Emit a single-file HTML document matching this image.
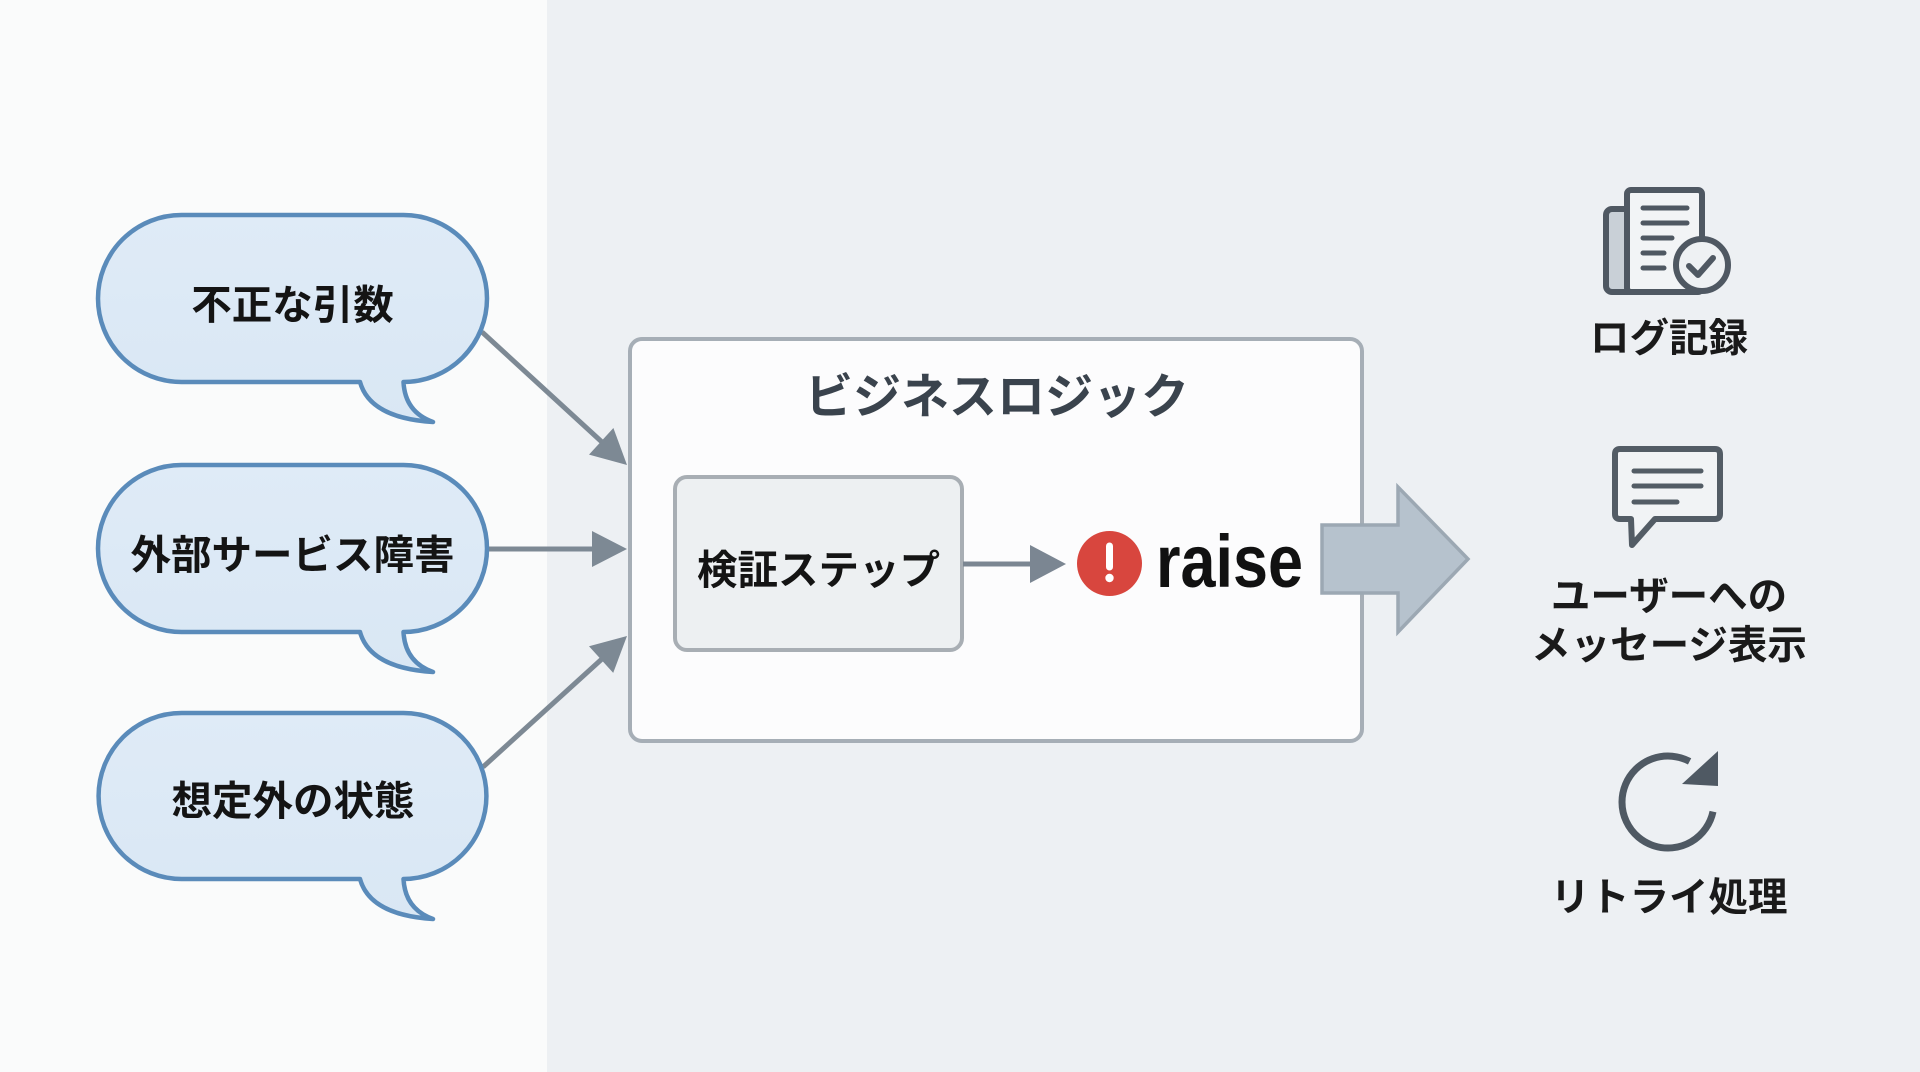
<!DOCTYPE html>
<html><head><meta charset="utf-8"><style>
html,body{margin:0;padding:0;width:1920px;height:1072px;overflow:hidden;background:#edf0f3;}
svg{display:block;}
text{font-family:"Liberation Sans","Noto Sans CJK JP",sans-serif;font-weight:bold;}
</style></head><body>
<svg width="1920" height="1072" viewBox="0 0 1920 1072" xmlns="http://www.w3.org/2000/svg">
<defs>
<linearGradient id="bub" x1="0" y1="0" x2="0" y2="1">
<stop offset="0" stop-color="#dfebf7"/><stop offset="1" stop-color="#d9e7f4"/>
</linearGradient>
</defs>
<rect x="0" y="0" width="1920" height="1072" fill="#edf0f3"/>
<rect x="0" y="0" width="547" height="1072" fill="#fafbfb"/>

<!-- connectors from bubbles -->
<g stroke="#7d8994" stroke-width="5" fill="none">
<line x1="482" y1="332" x2="603" y2="443"/>
<line x1="487" y1="549" x2="595" y2="549"/>
<line x1="483" y1="767" x2="603" y2="658"/>
</g>
<g fill="#7d8994">
<polygon points="627,465 589,454.6 613.4,428"/>
<polygon points="627,549 592,531 592,567"/>
<polygon points="627,636 613.2,672.9 589,646.3"/>
</g>

<!-- bubbles -->
<g fill="url(#bub)" stroke="#5a8bba" stroke-width="4.5" stroke-linejoin="round">
<path d="M181.5,215 H403.5 A83.5,83.5 0 0 1 403.5,382 Q405,412 433,422 Q370,418 360,382 H181.5 A83.5,83.5 0 0 1 181.5,215 Z"/>
<path d="M181.5,465 H403.5 A83.5,83.5 0 0 1 403.5,632 Q405,662 433,672 Q370,668 360,632 H181.5 A83.5,83.5 0 0 1 181.5,465 Z"/>
<path d="M181.5,713 H403.5 A83,83 0 0 1 403.5,879 Q405,909 433,919 Q370,915 360,879 H181.5 A83,83 0 0 1 181.5,713 Z"/>
</g>
<g fill="#141414" font-size="40.5" text-anchor="middle">
<text x="292.5" y="319">不正な引数</text>
<text x="292.5" y="569">外部サービス障害</text>
<text x="293" y="815">想定外の状態</text>
</g>

<!-- main box -->
<rect x="630" y="339" width="732" height="402" rx="12" fill="#fcfcfd" stroke="#a6aeb6" stroke-width="4"/>
<text x="997" y="413" font-size="48" fill="#3a434d" text-anchor="middle">ビジネスロジック</text>
<rect x="675" y="477" width="287" height="173" rx="12" fill="#edf0f2" stroke="#a8aeb4" stroke-width="4"/>
<text x="818.5" y="584" font-size="40.5" fill="#141414" text-anchor="middle">検証ステップ</text>

<!-- small arrow -->
<line x1="963" y1="564" x2="1034" y2="564" stroke="#7b8692" stroke-width="5"/>
<polygon points="1030,545 1066,564 1030,583" fill="#7b8692"/>

<!-- red circle -->
<circle cx="1109.5" cy="563.5" r="32.5" fill="#d8463e"/>
<line x1="1109.5" y1="546" x2="1109.5" y2="567" stroke="#ffffff" stroke-width="7" stroke-linecap="round"/>
<circle cx="1109.5" cy="578" r="4.2" fill="#ffffff"/>
<text x="1156" y="587" font-size="74" fill="#111111" textLength="147" lengthAdjust="spacingAndGlyphs">raise</text>

<!-- big arrow -->
<polygon points="1322,525 1398,525 1398,487 1468,559 1398,632 1398,593 1322,593" fill="#b6c2cd" stroke="#9ca8b3" stroke-width="3.5" stroke-linejoin="miter"/>

<!-- log icon -->
<g stroke="#4f5862" stroke-width="6" stroke-linejoin="round">
<rect x="1606" y="209" width="30" height="83" rx="6" fill="#c9d0d7"/>
<rect x="1627" y="190" width="75" height="102" rx="4" fill="#f2f4f6"/>
</g>
<g stroke="#4f5862" stroke-width="5" stroke-linecap="round">
<line x1="1643" y1="208" x2="1687" y2="208"/>
<line x1="1643" y1="223" x2="1687" y2="223"/>
<line x1="1643" y1="238" x2="1672" y2="238"/>
<line x1="1643" y1="253" x2="1664" y2="253"/>
<line x1="1643" y1="268" x2="1664" y2="268"/>
</g>
<circle cx="1702" cy="265" r="26" fill="#eef1f3" stroke="#4f5862" stroke-width="6"/>
<polyline points="1689,266 1698,275 1713,258" fill="none" stroke="#4f5862" stroke-width="6" stroke-linecap="round" stroke-linejoin="round"/>
<text x="1669" y="352" font-size="39.5" fill="#1a1a1a" text-anchor="middle">ログ記録</text>

<!-- message icon -->
<path d="M1620,449 H1715 Q1720,449 1720,454 V514 Q1720,519 1715,519 H1655 L1632,545 L1631,519 H1620 Q1615,519 1615,514 V454 Q1615,449 1620,449 Z" fill="#f1f3f5" stroke="#535c65" stroke-width="6" stroke-linejoin="round"/>
<g stroke="#535c65" stroke-width="5" stroke-linecap="round">
<line x1="1634" y1="471" x2="1701" y2="471"/>
<line x1="1634" y1="486" x2="1701" y2="486"/>
<line x1="1634" y1="502" x2="1677" y2="502"/>
</g>
<text x="1669" y="610" font-size="39.5" fill="#1a1a1a" text-anchor="middle">ユーザーへの</text>
<text x="1669" y="659" font-size="39.5" fill="#1a1a1a" text-anchor="middle">メッセージ表示</text>

<!-- retry icon -->
<path d="M1713,811.6 A46,46 0 1 1 1689.6,761.4" fill="none" stroke="#4f5963" stroke-width="7"/>
<polygon points="1682,784 1718,751 1718,786" fill="#4f5963"/>
<text x="1669" y="911" font-size="39.5" fill="#1a1a1a" text-anchor="middle">リトライ処理</text>
</svg>
</body></html>
